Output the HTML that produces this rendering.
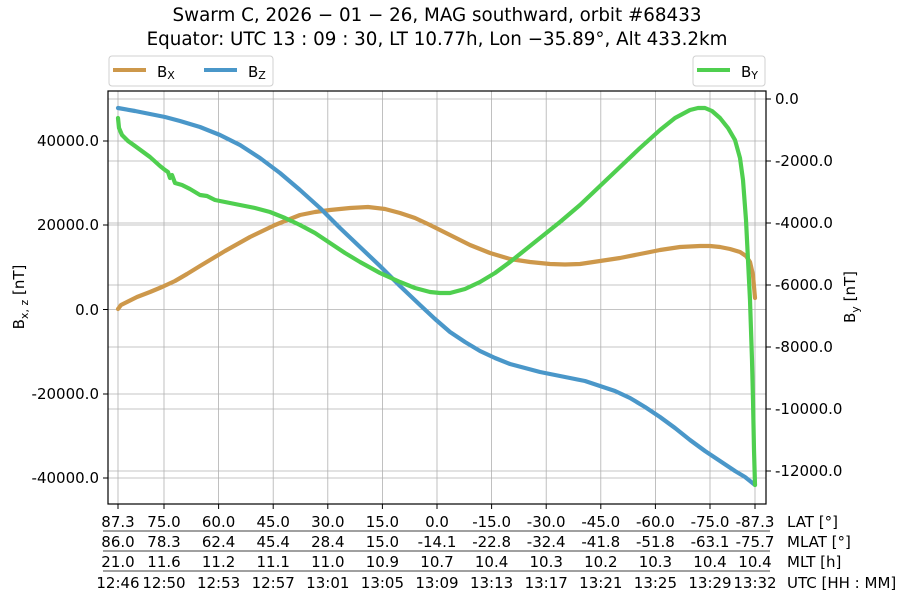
<!DOCTYPE html>
<html><head><meta charset="utf-8"><style>
body{margin:0;background:#fff;}
svg{display:block;font-family:"DejaVu Sans","Liberation Sans",sans-serif;}
</style></head><body>
<svg width="900" height="600" viewBox="0 0 900 600" xmlns="http://www.w3.org/2000/svg">
<rect width="900" height="600" fill="#fff"/>
<text x="437" y="21" font-size="18.3" text-anchor="middle">Swarm C, 2026 − 01 − 26, MAG southward, orbit #68433</text>
<text x="437" y="45" font-size="18.3" text-anchor="middle">Equator: UTC 13 : 09 : 30, LT 10.77h, Lon −35.89°, Alt 433.2km</text>
<g stroke="#b0b0b0" stroke-width="0.8">
<line x1="118" y1="91" x2="118" y2="504"/><line x1="164" y1="91" x2="164" y2="504"/><line x1="218.6" y1="91" x2="218.6" y2="504"/><line x1="273.2" y1="91" x2="273.2" y2="504"/><line x1="327.8" y1="91" x2="327.8" y2="504"/><line x1="382.4" y1="91" x2="382.4" y2="504"/><line x1="437" y1="91" x2="437" y2="504"/><line x1="491.6" y1="91" x2="491.6" y2="504"/><line x1="546.2" y1="91" x2="546.2" y2="504"/><line x1="600.8" y1="91" x2="600.8" y2="504"/><line x1="655.4" y1="91" x2="655.4" y2="504"/><line x1="710" y1="91" x2="710" y2="504"/><line x1="755" y1="91" x2="755" y2="504"/>
<line x1="108" y1="141" x2="766" y2="141"/><line x1="108" y1="225" x2="766" y2="225"/><line x1="108" y1="309.5" x2="766" y2="309.5"/><line x1="108" y1="394" x2="766" y2="394"/><line x1="108" y1="478" x2="766" y2="478"/>
<line x1="108" y1="99" x2="766" y2="99"/><line x1="108" y1="161" x2="766" y2="161"/><line x1="108" y1="223" x2="766" y2="223"/><line x1="108" y1="285" x2="766" y2="285"/><line x1="108" y1="347" x2="766" y2="347"/><line x1="108" y1="409" x2="766" y2="409"/><line x1="108" y1="471" x2="766" y2="471"/>
</g>
<g fill="none" stroke-width="4.2" stroke-linejoin="round" stroke-linecap="round">
<polyline stroke="#cd984b" points="118,309 121,305 125,303 137,297 150,292 162,287 175,281 187,274 200,266 225,251 250,237 275,225 300,215 315,212 330,210 350,208 368,207 385,209 400,213 415,218 430,225 450,235 470,245 490,253 510,259 530,262 550,264 565,264.5 580,264 600,261 620,258 640,254 660,250 680,247 700,246 710,246 720,247 730,249 740,252 746,256 750,262 753,275 755,298"/>
<polyline stroke="#4a97c9" points="118,108 135,111 150,114 165,117 180,121 200,127 220,135 240,145 260,158 280,173 300,190 320,208 340,228 360,247 380,266 400,286 420,305 435,319 450,332 465,342 480,351 495,358 510,364 525,368 540,372 555,375 570,378 585,381 600,386 615,391 630,398 645,407 660,417 675,428 690,440 705,451 720,461 735,471 745,477 755,485"/>
<polyline stroke="#4fcf4f" points="118,118 119,128 122,135 128,141 135,146 150,157 160,166 165,170 168,172 170,178 172,175 175,183 182,185 190,189 200,195 207,196 215,200 225,202 240,205 255,208 270,212 285,218 300,225 315,233 330,243 345,253 360,262 380,273 400,282 415,288 430,292 440,293 450,293 465,289 480,282 495,273 510,262 525,250 540,238 560,222 580,205 600,186 620,167 640,148 660,130 675,118 690,110 698,108 705,108 712,111 720,118 728,128 735,140 740,158 743,180 746,220 748,260 750,300 752,360 753,400 754,450 755,485"/>
</g>
<rect x="108" y="91" width="658" height="413" fill="none" stroke="#000" stroke-width="1.2"/>
<g stroke="#000" stroke-width="1">
<line x1="103" y1="141" x2="108" y2="141"/><line x1="103" y1="225" x2="108" y2="225"/><line x1="103" y1="309.5" x2="108" y2="309.5"/><line x1="103" y1="394" x2="108" y2="394"/><line x1="103" y1="478" x2="108" y2="478"/>
<line x1="766" y1="99" x2="771" y2="99"/><line x1="766" y1="161" x2="771" y2="161"/><line x1="766" y1="223" x2="771" y2="223"/><line x1="766" y1="285" x2="771" y2="285"/><line x1="766" y1="347" x2="771" y2="347"/><line x1="766" y1="409" x2="771" y2="409"/><line x1="766" y1="471" x2="771" y2="471"/>
</g>
<g font-size="15" text-anchor="end">
<text x="99" y="146">40000.0</text><text x="99" y="230">20000.0</text><text x="99" y="315">0.0</text><text x="99" y="399">-20000.0</text><text x="99" y="483">-40000.0</text>
</g>
<g font-size="15">
<text x="775" y="104">0.0</text><text x="775" y="166">-2000.0</text><text x="775" y="228">-4000.0</text><text x="775" y="290">-6000.0</text><text x="775" y="352">-8000.0</text><text x="775" y="414">-10000.0</text><text x="775" y="476">-12000.0</text>
</g>
<text transform="translate(24,297) rotate(-90)" font-size="15" text-anchor="middle">B<tspan font-size="11" dy="4">x, z</tspan><tspan dy="-4"> [nT]</tspan></text>
<text transform="translate(855,297) rotate(-90)" font-size="15" text-anchor="middle">B<tspan font-size="11" dy="4">y</tspan><tspan dy="-4"> [nT]</tspan></text>
<rect x="109" y="56" width="164" height="30" rx="3" fill="#fff" stroke="#d0d0d0"/>
<line x1="113" y1="70" x2="146" y2="70" stroke="#cd984b" stroke-width="4"/>
<text x="157" y="77" font-size="15">B<tspan font-size="11" dy="2">X</tspan></text>
<line x1="204" y1="70" x2="237" y2="70" stroke="#4a97c9" stroke-width="4"/>
<text x="248" y="77" font-size="15">B<tspan font-size="11" dy="2">Z</tspan></text>
<rect x="693" y="56" width="72" height="30" rx="3" fill="#fff" stroke="#d0d0d0"/>
<line x1="697" y1="70" x2="730" y2="70" stroke="#4fcf4f" stroke-width="4"/>
<text x="741" y="77" font-size="15">B<tspan font-size="11" dy="2">Y</tspan></text>
<g stroke="#000" stroke-width="1">
<line x1="118" y1="504" x2="118" y2="509"/><line x1="164" y1="504" x2="164" y2="509"/><line x1="218.6" y1="504" x2="218.6" y2="509"/><line x1="273.2" y1="504" x2="273.2" y2="509"/><line x1="327.8" y1="504" x2="327.8" y2="509"/><line x1="382.4" y1="504" x2="382.4" y2="509"/><line x1="437" y1="504" x2="437" y2="509"/><line x1="491.6" y1="504" x2="491.6" y2="509"/><line x1="546.2" y1="504" x2="546.2" y2="509"/><line x1="600.8" y1="504" x2="600.8" y2="509"/><line x1="655.4" y1="504" x2="655.4" y2="509"/><line x1="710" y1="504" x2="710" y2="509"/><line x1="755" y1="504" x2="755" y2="509"/>
<line x1="103" y1="531" x2="770" y2="531" stroke-width="0.8"/><line x1="103" y1="551" x2="770" y2="551" stroke-width="0.8"/><line x1="103" y1="571" x2="770" y2="571" stroke-width="0.8"/>
</g>
<g font-size="15" text-anchor="middle">
<text x="118" y="527">87.3</text><text x="164" y="527">75.0</text><text x="218.6" y="527">60.0</text><text x="273.2" y="527">45.0</text><text x="327.8" y="527">30.0</text><text x="382.4" y="527">15.0</text><text x="437" y="527">0.0</text><text x="491.6" y="527">-15.0</text><text x="546.2" y="527">-30.0</text><text x="600.8" y="527">-45.0</text><text x="655.4" y="527">-60.0</text><text x="710" y="527">-75.0</text><text x="755" y="527">-87.3</text>
<text x="118" y="547">86.0</text><text x="164" y="547">78.3</text><text x="218.6" y="547">62.4</text><text x="273.2" y="547">45.4</text><text x="327.8" y="547">28.4</text><text x="382.4" y="547">15.0</text><text x="437" y="547">-14.1</text><text x="491.6" y="547">-22.8</text><text x="546.2" y="547">-32.4</text><text x="600.8" y="547">-41.8</text><text x="655.4" y="547">-51.8</text><text x="710" y="547">-63.1</text><text x="755" y="547">-75.7</text>
<text x="118" y="567">21.0</text><text x="164" y="567">11.6</text><text x="218.6" y="567">11.2</text><text x="273.2" y="567">11.1</text><text x="327.8" y="567">11.0</text><text x="382.4" y="567">10.9</text><text x="437" y="567">10.7</text><text x="491.6" y="567">10.4</text><text x="546.2" y="567">10.3</text><text x="600.8" y="567">10.2</text><text x="655.4" y="567">10.3</text><text x="710" y="567">10.4</text><text x="755" y="567">10.4</text>
<text x="118" y="588">12:46</text><text x="164" y="588">12:50</text><text x="218.6" y="588">12:53</text><text x="273.2" y="588">12:57</text><text x="327.8" y="588">13:01</text><text x="382.4" y="588">13:05</text><text x="437" y="588">13:09</text><text x="491.6" y="588">13:13</text><text x="546.2" y="588">13:17</text><text x="600.8" y="588">13:21</text><text x="655.4" y="588">13:25</text><text x="710" y="588">13:29</text><text x="755" y="588">13:32</text>
</g>
<g font-size="15">
<text x="787" y="527">LAT [°]</text><text x="787" y="547">MLAT [°]</text><text x="787" y="567">MLT [h]</text><text x="787" y="588">UTC [HH : MM]</text>
</g>
</svg>
</body></html>
